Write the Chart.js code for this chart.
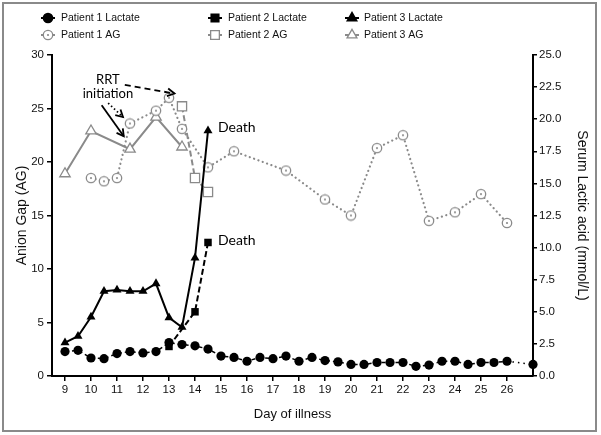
<!DOCTYPE html>
<html>
<head>
<meta charset="utf-8">
<script src="https://cdn.jsdelivr.net/npm/chart.js@4.4.0/dist/chart.umd.min.js"></script>
<style>
  html, body { margin: 0; padding: 0; background: #fff; }
  canvas { display: block; }
</style>
</head>
<body>
<canvas id="chart" width="601" height="435"></canvas>
<script>
var xTicks = [9, 10, 11, 12, 13, 14, 15, 16, 17, 18, 19, 20, 21, 22, 23, 24, 25, 26];

var p1LactateDays = [9, 9.5, 10, 10.5, 11, 11.5, 12, 12.5, 13, 13.5, 14, 14.5, 15, 15.5, 16, 16.5, 17, 17.5,
  18, 18.5, 19, 19.5, 20, 20.5, 21, 21.5, 22, 22.5, 23, 23.5, 24, 24.5, 25, 25.5, 26, 27];
var p1Lactate = [1.9, 2.0, 1.4, 1.35, 1.75, 1.9, 1.8, 1.9, 2.6, 2.45, 2.35, 2.1, 1.55, 1.45, 1.15, 1.45, 1.35, 1.55,
  1.15, 1.45, 1.2, 1.1, 0.9, 0.9, 1.05, 1.05, 1.05, 0.75, 0.85, 1.15, 1.15, 0.9, 1.05, 1.05, 1.15, 0.9];

var p2LactateDays = [13, 14, 14.5];
var p2Lactate = [2.3, 5.0, 10.4];

var p3LactateDays = [9, 9.5, 10, 10.5, 11, 11.5, 12, 12.5, 13, 13.5, 14, 14.5];
var p3Lactate = [2.6, 3.1, 4.6, 6.6, 6.7, 6.6, 6.6, 7.2, 4.55, 3.8, 9.2, 19.1];

var p1AgDays = [10, 10.5, 11, 11.5, 12.5, 13, 13.5, 14.5, 15.5, 17.5, 19, 20, 21, 22, 23, 24, 25, 26];
var p1Ag = [18.5, 18.2, 18.5, 23.6, 24.8, 26.0, 23.1, 19.5, 21.0, 19.2, 16.5, 15.0, 21.3, 22.5, 14.5, 15.3, 17.0, 14.3];

var p2AgDays = [13.5, 14, 14.5];
var p2Ag = [25.2, 18.5, 17.2];

var p3AgDays = [9, 10, 11.5, 12.5, 13.5];
var p3Ag = [18.9, 22.9, 21.2, 24.2, 21.4];

var GRAY = '#8a8a8a';
var FONT = "Arial, 'Liberation Sans', sans-serif";
var NOTE_FONT = "Lato, 'Open Sans', sans-serif";

function pts(days, vals) {
  return days.map(function (d, i) { return { x: d, y: vals[i] }; });
}

// open gray ring with a centre dot
var ring = (function () {
  var c = document.createElement('canvas');
  c.width = 12; c.height = 12;
  var g = c.getContext('2d');
  g.fillStyle = '#fff';
  g.strokeStyle = GRAY;
  g.lineWidth = 1.3;
  g.beginPath(); g.arc(6, 6, 4.7, 0, Math.PI * 2); g.fill(); g.stroke();
  g.fillStyle = GRAY;
  g.beginPath(); g.arc(6, 6, 1.1, 0, Math.PI * 2); g.fill();
  return c;
})();

var datasets = [
  {
    label: 'Patient 1 Lactate', data: pts(p1LactateDays, p1Lactate), yAxisID: 'y2',
    borderColor: '#000', backgroundColor: '#000', borderWidth: 1.5, borderDash: [4, 3],
    pointStyle: 'circle', pointRadius: 4.6, pointBorderWidth: 0,
    segment: { borderDash: function (ctx) { return ctx.p1DataIndex === p1Lactate.length - 1 ? [1.5, 4] : undefined; } }
  },
  {
    label: 'Patient 2 Lactate', data: pts(p2LactateDays, p2Lactate), yAxisID: 'y2',
    borderColor: '#000', backgroundColor: '#000', borderWidth: 2, borderDash: [6, 3],
    pointStyle: 'rect', pointRadius: 5.3, pointBorderWidth: 0
  },
  {
    label: 'Patient 3 Lactate', data: pts(p3LactateDays, p3Lactate), yAxisID: 'y2',
    borderColor: '#000', backgroundColor: '#000', borderWidth: 2,
    pointStyle: 'triangle', pointRadius: 5.2, pointBorderWidth: 0
  },
  {
    label: 'Patient 1 AG', data: pts(p1AgDays, p1Ag), yAxisID: 'y',
    borderColor: GRAY, backgroundColor: '#fff', borderWidth: 2.2, borderDash: [0.1, 4.5], borderCapStyle: 'round',
    pointStyle: ring, pointRadius: 5
  },
  {
    label: 'Patient 2 AG', data: pts(p2AgDays, p2Ag), yAxisID: 'y',
    borderColor: GRAY, backgroundColor: '#fff', borderWidth: 2, borderDash: [6, 3],
    pointStyle: 'rect', pointRadius: 6.5, pointBorderWidth: 1.3
  },
  {
    label: 'Patient 3 AG', data: pts(p3AgDays, p3Ag), yAxisID: 'y',
    borderColor: GRAY, backgroundColor: '#fff', borderWidth: 2,
    pointStyle: 'triangle', pointRadius: 6, pointBorderWidth: 1.3
  }
];
datasets.forEach(function (d) { d.clip = false; d.tension = 0; });

function arrow(ctx, a, b, dash) {
  ctx.save();
  ctx.strokeStyle = '#000';
  ctx.lineWidth = 1.8;
  ctx.setLineDash(dash);
  ctx.beginPath(); ctx.moveTo(a[0], a[1]); ctx.lineTo(b[0], b[1]); ctx.stroke();
  ctx.setLineDash([]);
  var ang = Math.atan2(b[1] - a[1], b[0] - a[0]), len = 8;
  ctx.beginPath();
  ctx.moveTo(b[0] - len * Math.cos(ang - 0.5), b[1] - len * Math.sin(ang - 0.5));
  ctx.lineTo(b[0], b[1]);
  ctx.lineTo(b[0] - len * Math.cos(ang + 0.5), b[1] - len * Math.sin(ang + 0.5));
  ctx.stroke();
  ctx.restore();
}

var notes = {
  id: 'notes',
  afterDatasetsDraw: function (chart) {
    var ctx = chart.ctx, x = chart.scales.x, y = chart.scales.y, y2 = chart.scales.y2;
    function P(d, v) { return [x.getPixelForValue(d), y.getPixelForValue(v)]; }
    arrow(ctx, P(11.30, 27.2), P(13.21, 26.4), [6, 4]);
    arrow(ctx, P(10.66, 25.5), P(11.23, 24.2), [1.5, 2.5]);
    arrow(ctx, P(10.41, 25.3), P(11.26, 22.4), []);
    ctx.save();
    ctx.fillStyle = '#000';
    ctx.font = '13px ' + NOTE_FONT;
    ctx.textAlign = 'center';
    ctx.textBaseline = 'middle';
    var t = P(10.65, 27.7);
    ctx.fillText('RRT', t[0], t[1]);
    t = P(10.65, 26.4);
    ctx.fillText('initiation', t[0], t[1]);
    ctx.font = '14px ' + NOTE_FONT;
    ctx.textAlign = 'left';
    var n3 = p3Lactate.length - 1, n2 = p2Lactate.length - 1;
    ctx.fillText('Death', x.getPixelForValue(p3LactateDays[n3]) + 10, y2.getPixelForValue(p3Lactate[n3]) - 3);
    ctx.fillText('Death', x.getPixelForValue(p2LactateDays[n2]) + 10, y2.getPixelForValue(p2Lactate[n2]) - 2);
    ctx.restore();
  }
};

var legendGrid = {
  id: 'legendGrid',
  afterDraw: function (chart) {
    var ctx = chart.ctx;
    var cols = [[48, 61], [215, 228], [352, 364]], rows = [18, 35];
    chart.data.datasets.forEach(function (ds, i) {
      var c = cols[i % 3], yy = rows[Math.floor(i / 3)];
      ctx.save();
      ctx.strokeStyle = ds.borderColor;
      ctx.lineWidth = 2;
      ctx.beginPath(); ctx.moveTo(c[0] - 7, yy); ctx.lineTo(c[0] + 7, yy); ctx.stroke();
      ctx.fillStyle = ds.backgroundColor;
      ctx.lineWidth = ds.pointBorderWidth === undefined ? 1 : ds.pointBorderWidth;
      Chart.helpers.drawPoint(ctx, { pointStyle: ds.pointStyle, radius: ds.pointRadius * 0.95, rotation: 0, borderWidth: ctx.lineWidth }, c[0], yy);
      ctx.fillStyle = '#111';
      ctx.font = '10.5px ' + FONT;
      ctx.textBaseline = 'middle';
      ctx.textAlign = 'left';
      ctx.fillText(ds.label, c[1], yy);
      ctx.restore();
    });
    // outer frame
    ctx.save();
    ctx.strokeStyle = GRAY;
    ctx.lineWidth = 2;
    ctx.strokeRect(3, 3, 593, 428);
    ctx.restore();
  }
};

var axisGrid = { display: true, drawOnChartArea: false, drawTicks: true, tickLength: 5, color: '#000', lineWidth: 1.5 };
var axisBorder = { display: true, color: '#000', width: 2 };
var tickFont = { family: FONT, size: 11.5 };

new Chart(document.getElementById('chart'), {
  type: 'line',
  data: { datasets: datasets },
  options: {
    responsive: false,
    animation: false,
    devicePixelRatio: 1,
    layout: { padding: { top: 55, left: 0, right: 0, bottom: 0 } },
    plugins: { legend: { display: false }, tooltip: { enabled: false }, title: { display: false } },
    scales: {
      x: {
        type: 'linear', min: 8.5, max: 27,
        afterBuildTicks: function (s) { s.ticks = xTicks.map(function (v) { return { value: v }; }); },
        afterFit: function (s) { s.height = 59; },
        grid: axisGrid, border: axisBorder,
        ticks: { autoSkip: false, maxRotation: 0, padding: 2, color: '#111', font: tickFont },
        title: { display: true, text: 'Day of illness', color: '#111', font: { family: FONT, size: 13 }, padding: { bottom: 13 } }
      },
      y: {
        position: 'left', min: 0, max: 30,
        afterBuildTicks: function (s) { s.ticks = [0, 5, 10, 15, 20, 25, 30].map(function (v) { return { value: v }; }); },
        afterFit: function (s) { s.width = 52; },
        grid: axisGrid, border: axisBorder,
        ticks: { padding: 3, color: '#111', font: tickFont },
        title: { display: true, text: 'Anion Gap (AG)', color: '#111', font: { family: FONT, size: 14 }, padding: { top: 14 } }
      },
      y2: {
        position: 'right', min: 0, max: 25,
        afterBuildTicks: function (s) { s.ticks = [0, 2.5, 5, 7.5, 10, 12.5, 15, 17.5, 20, 22.5, 25].map(function (v) { return { value: v }; }); },
        afterFit: function (s) { s.width = 68; },
        grid: { display: true, drawOnChartArea: false, drawTicks: true, tickLength: 4, color: '#000', lineWidth: 1.5 },
        border: axisBorder,
        ticks: { padding: 2, color: '#111', font: tickFont, callback: function (v) { return Number(v).toFixed(1); } },
        title: { display: true, text: 'Serum Lactic acid (mmol/L)', color: '#111', font: { family: FONT, size: 14 }, padding: { top: 11 } }
      }
    }
  },
  plugins: [notes, legendGrid]
});
</script>
</body>
</html>
